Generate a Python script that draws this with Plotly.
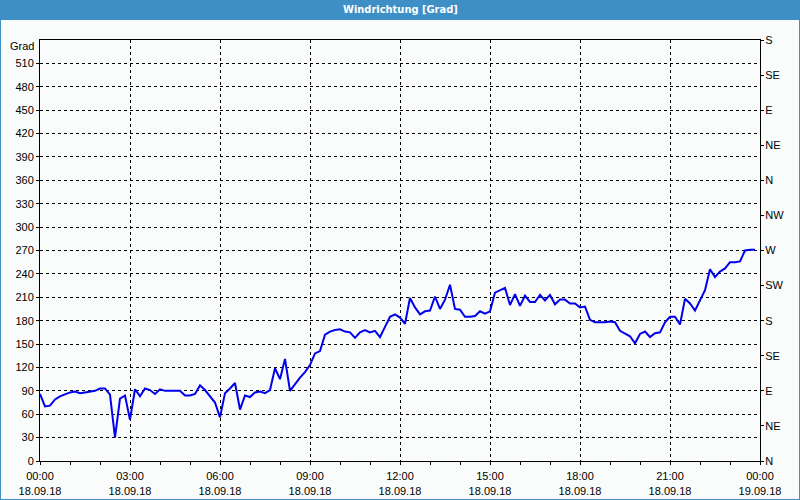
import pandas as pd
import plotly.graph_objects as go

# ---- data ----
start_time = "2018-09-18 00:00"
interval = "10min"
direction_deg = [
    86, 70, 71, 79, 83, 86, 88, 89, 87, 88, 89, 90, 93, 93,
    85, 30, 80, 84, 53, 92, 83, 93, 91, 86, 92, 90, 90, 90, 90, 84, 84, 86, 97, 91, 83, 75, 56, 87,
    93, 100, 66, 84, 82, 88, 89, 87, 91, 119, 105, 131, 90, 99, 107, 114, 123, 138, 141, 162,
    166, 168, 169, 166, 165, 158, 165, 168, 165, 167, 159, 172, 185, 188, 184, 176,
    209, 197, 188, 192, 193, 211, 195, 207, 226, 195, 194, 185, 185, 186, 192, 189, 192, 216,
    219, 222, 200, 214, 199, 212, 204, 204, 213, 206, 213, 201, 207, 207, 202, 202, 197, 198,
    181, 178, 178, 178, 179, 178, 167, 164, 160, 151, 163, 166, 159, 164, 165, 178, 185, 185,
    175, 208, 202, 193, 205, 219, 246, 236, 243, 247, 255, 255, 256, 270, 271, 271,
]
x_tick_times = ["2018-09-18 00:00", "2018-09-18 03:00", "2018-09-18 06:00", "2018-09-18 09:00",
                "2018-09-18 12:00", "2018-09-18 15:00", "2018-09-18 18:00", "2018-09-18 21:00",
                "2018-09-19 00:00"]
x_tick_clock = ["00:00", "03:00", "06:00", "09:00", "12:00", "15:00", "18:00", "21:00", "00:00"]
x_tick_date = ["18.09.18"] * 8 + ["19.09.18"]
y_left_ticks = list(range(0, 511, 30))
y_right_ticks = list(range(0, 541, 45))
y_right_labels = ["N", "NE", "E", "SE", "S", "SW", "W", "NW", "N", "NE", "E", "SE", "S"]
title_text = "Windrichtung [Grad]"
unit_label = "Grad"

times = pd.date_range(start_time, periods=len(direction_deg), freq=interval)

# ---- styling ----
W, H = 800, 500
ML, MR, MT, MB = 40, 40, 40, 39
PW, PH = W - ML - MR, H - MT - MB
BLUE = "#3d8fc6"
BG = "#fafcfb"
FONT = "Liberation Sans, Arial, sans-serif"
TICKFONT = dict(family=FONT, size=11, color="#000000")


def px_x(p):
    return (p - ML) / PW


def px_y(p):
    return (H - MB - p) / PH


fig = go.Figure()
fig.add_trace(go.Scatter(x=times, y=direction_deg, mode="lines",
                         line=dict(color="#0000ee", width=2), showlegend=False))
fig.add_trace(go.Scatter(x=times, y=direction_deg, mode="lines", yaxis="y2",
                         line=dict(color="rgba(0,0,0,0)", width=0), showlegend=False,
                         hoverinfo="skip"))

grid = dict(showgrid=True, gridcolor="#000000", gridwidth=1, griddash="3px,3px")

fig.update_layout(
    width=W, height=H, autosize=False,
    margin=dict(l=ML, r=MR, t=MT, b=MB, pad=0),
    paper_bgcolor=BG, plot_bgcolor=BG,
    font=TICKFONT,
    xaxis=dict(
        type="date", automargin=False,
        range=[x_tick_times[0], x_tick_times[-1]],
        tickmode="array",
        tickvals=x_tick_times,
        ticktext=[f"{c}<br>{d}" for c, d in zip(x_tick_clock, x_tick_date)],
        ticks="outside", ticklen=3, tickcolor="#000000", ticklabelstandoff=2,
        minor=dict(dtick=3600000, ticks="outside", ticklen=3, tickcolor="#000000", showgrid=False),
        showline=True, linecolor="#000000", linewidth=1, mirror=True,
        zeroline=False, tickfont=TICKFONT, **grid,
    ),
    yaxis=dict(
        range=[0, 540], automargin=False,
        tickmode="array", tickvals=y_left_ticks, ticktext=[str(v) for v in y_left_ticks],
        ticks="outside", ticklen=3, tickcolor="#000000",
        showline=True, linecolor="#000000", linewidth=1,
        zeroline=False, tickfont=TICKFONT, **grid,
    ),
    yaxis2=dict(
        range=[0, 540], overlaying="y", side="right", automargin=False,
        tickmode="array", tickvals=y_right_ticks, ticktext=y_right_labels,
        ticks="outside", ticklen=3, tickcolor="#000000", ticklabelstandoff=-1,
        showline=True, linecolor="#000000", linewidth=1,
        showgrid=False, zeroline=False, tickfont=TICKFONT,
    ),
    shapes=[
        dict(type="rect", xref="paper", yref="paper",
             x0=px_x(0), x1=px_x(W), y0=px_y(20), y1=px_y(0),
             fillcolor=BLUE, line=dict(width=0), layer="above"),
        dict(type="line", xref="paper", yref="paper",
             x0=px_x(0.5), x1=px_x(0.5), y0=px_y(20), y1=px_y(H),
             line=dict(color=BLUE, width=1), layer="above"),
        dict(type="line", xref="paper", yref="paper",
             x0=px_x(W - 0.5), x1=px_x(W - 0.5), y0=px_y(20), y1=px_y(H),
             line=dict(color=BLUE, width=1), layer="above"),
        dict(type="line", xref="paper", yref="paper",
             x0=px_x(0), x1=px_x(W), y0=px_y(H - 0.5), y1=px_y(H - 0.5),
             line=dict(color=BLUE, width=1), layer="above"),
    ],
    annotations=[
        dict(text=f"<b>{title_text}</b>", xref="paper", yref="paper", x=0.5, y=px_y(10),
             xanchor="center", yanchor="middle", showarrow=False,
             font=dict(family="Liberation Sans Narrow, DejaVu Sans Condensed, " + FONT,
                       size=11, color="#ffffff")),
        dict(text=unit_label, xref="paper", yref="paper", x=0, y=px_y(46),
             xanchor="right", yanchor="middle", xshift=-4, showarrow=False,
             font=TICKFONT),
    ],
)

fig.write_html(
    "out.html",
    post_script="document.body.style.margin='0';document.body.style.overflow='hidden';",
)
